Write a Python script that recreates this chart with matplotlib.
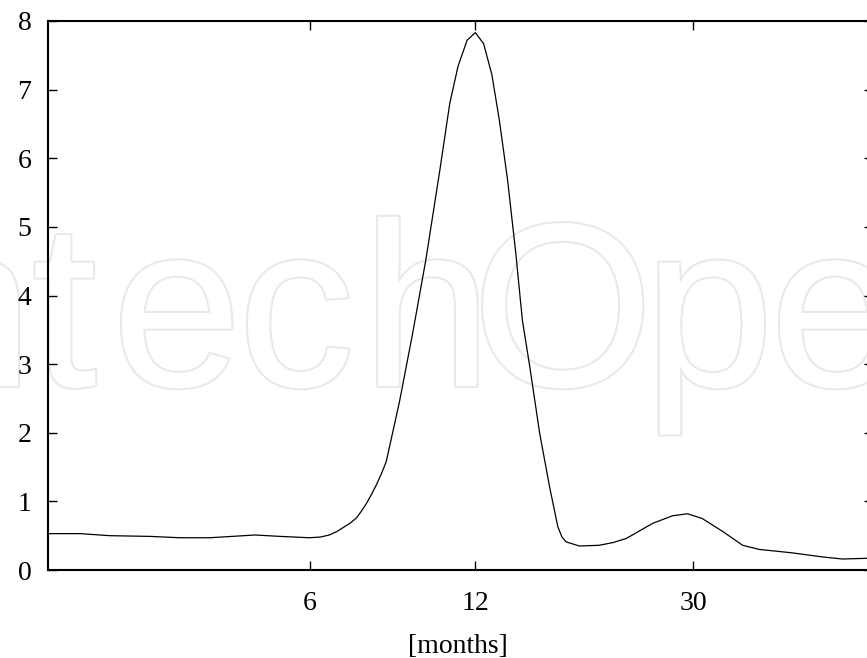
import matplotlib
matplotlib.use("Agg")
import matplotlib.pyplot as plt
import matplotlib.patheffects as pe

# ---- data ----
t = [0, 3.9, 7.5, 12.3, 16.0, 19.6, 25.1, 28.1, 31.7, 33.0, 34.1, 35.0, 35.8,
     36.6, 37.4, 38.0, 38.6, 39.2, 39.8, 40.4, 41.0, 42.6, 44.2, 44.8, 45.8,
     47.5, 48.7, 49.7, 50.8, 51.8, 52.8, 53.8, 54.7, 55.7, 56.7, 57.5, 58.4,
     59.6, 60.8, 61.8, 62.3, 62.8, 64.4, 66.8, 68.5, 70.1, 73.3, 75.7, 77.5,
     79.3, 81.8, 84.2, 86.2, 90.2, 93.9, 96.3, 99.2, 100]
values = [0.53, 0.53, 0.50, 0.49, 0.47, 0.47, 0.51, 0.49, 0.47, 0.48, 0.51,
          0.56, 0.62, 0.68, 0.76, 0.86, 0.97, 1.10, 1.24, 1.40, 1.58, 2.45,
          3.45, 3.85, 4.52, 5.83, 6.80, 7.34, 7.72, 7.83, 7.67, 7.22, 6.56,
          5.69, 4.62, 3.64, 2.96, 1.99, 1.21, 0.63, 0.48, 0.41, 0.35, 0.36,
          0.40, 0.46, 0.68, 0.79, 0.82, 0.75, 0.56, 0.36, 0.30, 0.25, 0.19,
          0.16, 0.17, 0.17]
xtick_pos = [31.7, 51.8, 78.2]
xtick_labels = ["6", "12", "30"]
yticks = [0, 1, 2, 3, 4, 5, 6, 7, 8]
xlabel = "[months]"
watermark_letters = ["t", "e", "c", "h", "O", "p", "e"]
watermark_left_px = [32, 112, 238, 362, 472, 644, 770]

W, H = 867, 658
fig = plt.figure(figsize=(W / 100, H / 100), dpi=100)
fig.patch.set_facecolor("white")

# watermark ("IntechOpen", partly off the canvas) behind everything
wm_style = dict(family="Liberation Sans", fontsize=168, va="baseline", color="white",
                zorder=0,
                path_effects=[pe.Stroke(linewidth=3, foreground="#e9e9e9"), pe.Normal()])
fig.text(33 / W, 1 - 386 / H, "In", ha="right", **wm_style)
for ch, xp in zip(watermark_letters, watermark_left_px):
    fig.text(xp / W, 1 - 386 / H, ch, ha="left", **wm_style)
fig.text(900 / W, 1 - 386 / H, "n", ha="left", **wm_style)

left, right, top, bottom = 48, 873, 21, 570
ax = fig.add_axes([left / W, 1 - bottom / H, (right - left) / W, (bottom - top) / H])
ax.set_facecolor("none")
ax.set_zorder(1)

ax.plot(t, values, color="black", lw=0.9)

ax.set_xlim(0, 100)
ax.set_ylim(0, 8)
ax.set_xticks(xtick_pos)
ax.set_xticklabels(xtick_labels)
ax.set_yticks(yticks)
for s in ax.spines.values():
    s.set_linewidth(1.5)
ax.tick_params(direction="in", length=6.5, width=1.0, top=True, right=True,
               labelsize=20)
ax.tick_params(axis="y", pad=12)
ax.tick_params(axis="x", pad=15)
for lab in ax.get_xticklabels() + ax.get_yticklabels():
    lab.set_family("Liberation Serif")
ax.set_xlabel(xlabel, family="Liberation Serif", fontsize=20)
ax.xaxis.set_label_coords((457.5 - left) / (right - left), (bottom - 634) / (bottom - top))

fig.savefig("out.png", dpi=100)
